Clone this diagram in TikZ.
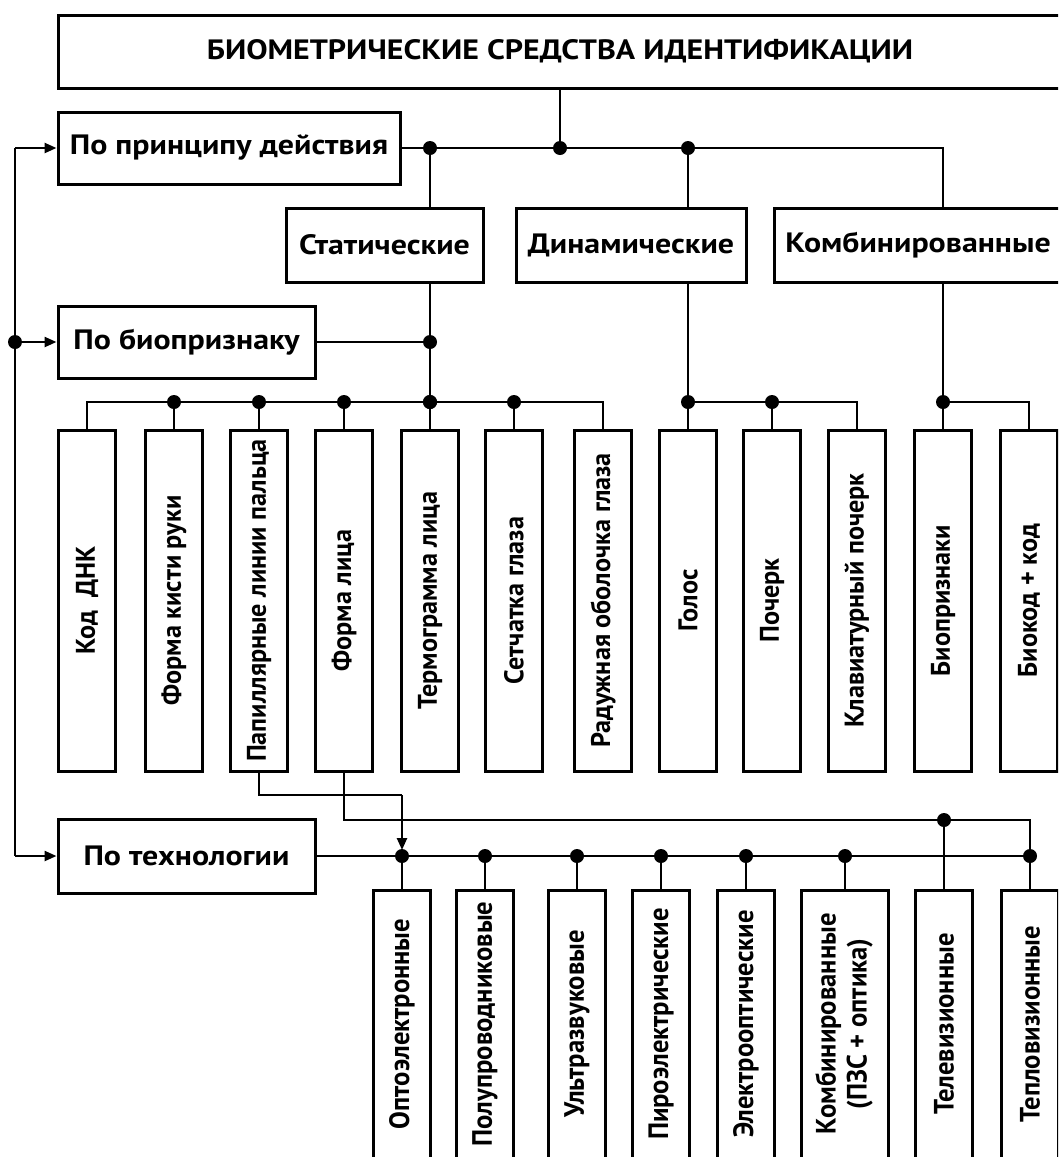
\documentclass[tikz,border=0pt]{standalone}
\usepackage{fontspec}
\setmainfont{PT Sans}
\newfontfamily\hfont[FakeStretch=1.14]{PT Sans}
\newfontfamily\vfont[FakeStretch=0.97]{PT Sans}
\newfontfamily\tfont[FakeStretch=0.95]{PT Sans}
\usetikzlibrary{arrows.meta,calc}
\begin{document}
\begin{tikzpicture}[x=1pt,y=-1pt,
  box/.style={draw, line width=3pt, inner sep=0pt, font=\hfont\bfseries\fontsize{28}{32}\selectfont},
  vbox/.style={draw, line width=3pt, inner sep=0pt, minimum width=57pt, minimum height=341pt, font=\vfont\bfseries\fontsize{27}{31}\selectfont},
  tbox/.style={vbox, minimum height=268pt, font=\tfont\bfseries\fontsize{28}{31}\selectfont},
  conn/.style={line width=2.4pt},
  arr/.style={conn, -{Triangle[length=12pt,width=10pt]}},
  jdot/.style={fill=black}
]
\clip (0,0) rectangle (1058,1157);
\fill[white] (0,0) rectangle (1058,1157);

% top level
\node[box, minimum width=1004pt, minimum height=73pt] (title) at (560,51.5) {БИОМЕТРИЧЕСКИЕ СРЕДСТВА ИДЕНТИФИКАЦИИ};
\node[box, minimum width=342pt, minimum height=72pt] (prin) at (229,148) {По принципу действия};
\node[box, minimum width=197pt, minimum height=74pt] (stat) at (384.5,245) {Статические};
\node[box, minimum width=230pt, minimum height=74pt] (dyn) at (631,245) {Динамические};
\node[box, minimum width=288pt, minimum height=74pt] (komb) at (918,245) {Комбинированные};
\node[box, minimum width=257pt, minimum height=72pt] (bio) at (186.5,342) {По биопризнаку};
\node[box, minimum width=257pt, minimum height=74pt] (tech) at (186.5,856) {По технологии};

% biometric feature boxes
\node[vbox] (dnk)  at (87,600.5)  {\rotatebox{90}{Код\ \ ДНК}};
\node[vbox] (hand) at (174,600.5) {\rotatebox{90}{Форма кисти руки}};
\node[vbox] (pap)  at (259,600.5) {\rotatebox{90}{Папиллярные линии пальца}};
\node[vbox] (face) at (344,600.5) {\rotatebox{90}{Форма лица}};
\node[vbox] (term) at (430,600.5) {\rotatebox{90}{Термограмма лица}};
\node[vbox] (ret)  at (514,600.5) {\rotatebox{90}{Сетчатка глаза}};
\node[vbox] (iris) at (603,600.5) {\rotatebox{90}{Радужная оболочка глаза}};
\node[vbox] (voice) at (688,600.5) {\rotatebox{90}{Голос}};
\node[vbox] (hw)   at (772,600.5) {\rotatebox{90}{Почерк}};
\node[vbox] (kb)   at (857,600.5) {\rotatebox{90}{Клавиатурный почерк}};
\node[vbox] (bp)   at (943,600.5) {\rotatebox{90}{Биопризнаки}};
\node[vbox] (bk)   at (1029,600.5) {\rotatebox{90}{Биокод + код}};

% technology boxes
\node[tbox] (opto) at (402,1024) {\rotatebox{90}{Оптоэлектронные}};
\node[tbox] (semi) at (485,1024) {\rotatebox{90}{Полупроводниковые}};
\node[tbox] (ultra) at (577,1024) {\rotatebox{90}{Ультразвуковые}};
\node[tbox] (pyro) at (661,1024) {\rotatebox{90}{Пироэлектрические}};
\node[tbox] (eo)   at (746,1024) {\rotatebox{90}{Электрооптические}};
\node[tbox, minimum width=87pt] (comb) at (845,1024) {\rotatebox{90}{\begin{tabular}{@{}c@{}}Комбинированные\\(ПЗС + оптика)\end{tabular}}};
\node[tbox] (tv)   at (944,1024) {\rotatebox{90}{Телевизионные}};
\node[tbox] (therm) at (1030,1024) {\rotatebox{90}{Тепловизионные}};

% junction coordinates
\coordinate (j1) at (430,148);
\coordinate (j0) at (560,148);
\coordinate (j2) at (688,148);
\coordinate (j3) at (943,148);
\coordinate (jb) at (430,342);
\coordinate (s0) at (87,402);
\coordinate (s1) at (603,402);
\coordinate (sj) at (430,402);
\coordinate (dj) at (688,402);
\coordinate (de) at (857,402);
\coordinate (kj) at (943,402);
\coordinate (ke) at (1029,402);
\coordinate (lt) at (15,148);
\coordinate (lm) at (15,342);
\coordinate (lb) at (15,856);
\coordinate (te) at (1030,856);
\coordinate (p1) at (259,795);
\coordinate (p2) at (402,795);
\coordinate (f1) at (344,820);
\coordinate (f2) at (1030,820);
\coordinate (ft) at (944,820);

% top connectors
\draw[conn] (title.south) -- (j0);
\draw[conn] (prin.east) -- (j3) -- (j3 |- komb.north);
\draw[conn] (j1) -- (j1 |- stat.north);
\draw[conn] (j2) -- (j2 |- dyn.north);
\draw[conn] (j1 |- stat.south) -- (sj);
\draw[conn] (bio.east) -- (jb);
\draw[conn] (j2 |- dyn.south) -- (dj);
\draw[conn] (j3 |- komb.south) -- (kj);

% buses to feature boxes
\draw[conn] (dnk.north) |- (s1) -- (iris.north);
\foreach \b in {hand,pap,face,term,ret} \draw[conn] (\b.north) -- (\b.north |- s0);
\draw[conn] (voice.north) -- (dj) -- (de) -- (kb.north);
\draw[conn] (hw.north) -- (hw.north |- dj);
\draw[conn] (bp.north) -- (kj) -- (ke) -- (bk.north);

% left classification line
\draw[conn] (lt) -- (lb);
\draw[arr] (lt) -- (prin.west);
\draw[arr] (lm) -- (bio.west);
\draw[arr] (lb) -- (tech.west);

% technology bus
\draw[conn] (tech.east) -- (te);
\foreach \b in {opto,semi,ultra,pyro,eo,comb} \draw[conn] (\b.north) -- (\b.north |- te);
\draw[conn] (pap.south) -- (p1) -- (p2);
\draw[arr, shorten >=6pt] (p2) -- (opto.north |- te);
\draw[conn] (face.south) -- (f1) -- (f2) -- (therm.north);
\draw[conn] (ft) -- (tv.north);

% junction dots
\foreach \p in {j1,j0,j2,jb,lm,dj,kj,te,ft} \fill[jdot] (\p) circle (7pt);
\foreach \b in {hand,pap,face,term,ret} \fill[jdot] (\b.north |- s0) circle (7pt);
\fill[jdot] (sj) circle (7pt);
\fill[jdot] (hw.north |- dj) circle (7pt);
\foreach \b in {opto,semi,ultra,pyro,eo,comb} \fill[jdot] (\b.north |- te) circle (7pt);
\end{tikzpicture}
\end{document}
